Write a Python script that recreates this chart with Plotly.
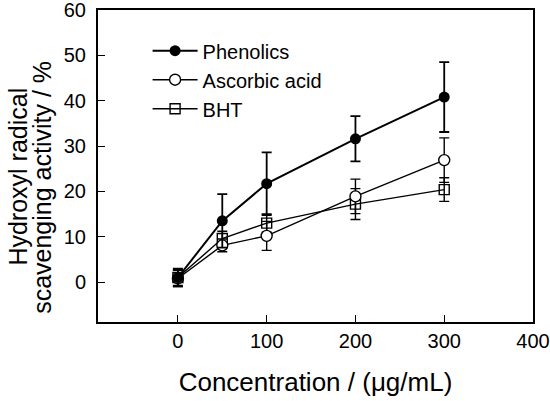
import plotly.graph_objects as go

conc = [0, 50, 100, 200, 300]
phenolics = [1.0, 13.5, 21.7, 31.6, 40.8]
phenolics_err = [1.8, 5.9, 6.9, 5.0, 7.7]
ascorbic = [0.8, 8.1, 10.2, 18.9, 26.9]
ascorbic_err = [1.8, 1.4, 3.2, 3.8, 4.9]
bht = [1.0, 9.6, 13.0, 17.2, 20.4]
bht_err = [2.0, 1.6, 2.0, 3.4, 2.6]

x_ticks = [0, 100, 200, 300, 400]
y_ticks = [0, 10, 20, 30, 40, 50, 60]
x_title = "Concentration / (μg/mL)"
y_title_lines = ["Hydroxyl radical", "scavenging activity / %"]

fig = go.Figure()
fig.add_trace(go.Scatter(
    x=conc, y=bht, name="BHT", mode="lines+markers",
    line=dict(color="black", width=1.4),
    marker=dict(symbol="square-open", size=10, color="black", line=dict(width=1.4)),
    error_y=dict(type="data", array=bht_err, color="black", thickness=1.4, width=5),
))
fig.add_trace(go.Scatter(
    x=conc, y=ascorbic, name="Ascorbic acid", mode="lines+markers",
    line=dict(color="black", width=1.4),
    marker=dict(symbol="circle", size=11, color="white", line=dict(width=1.4, color="black")),
    error_y=dict(type="data", array=ascorbic_err, color="black", thickness=1.4, width=5),
))
fig.add_trace(go.Scatter(
    x=conc, y=phenolics, name="Phenolics", mode="lines+markers",
    line=dict(color="black", width=2),
    marker=dict(symbol="circle", size=11, color="black"),
    error_y=dict(type="data", array=phenolics_err, color="black", thickness=1.8, width=5),
))

fam = "Liberation Sans, Arial, sans-serif"
tick_font = dict(family=fam, size=20, color="black")
title_font = dict(family=fam, size=25, color="black")

# y-axis title as two tightly spaced rotated lines
for i, (txt, xpx) in enumerate(zip(y_title_lines, [18, 42])):
    fig.add_annotation(text=txt, xref="paper", yref="paper",
                       x=(xpx - 98) / 435, y=0.466 if i == 0 else 0.43,
                       xanchor="center", yanchor="middle", textangle=-90,
                       showarrow=False, font=title_font)

fig.update_layout(
    width=550, height=401,
    margin=dict(l=98, r=17, t=10, b=79),
    paper_bgcolor="white", plot_bgcolor="white",
    font=tick_font,
    showlegend=True,
    legend=dict(x=0.114, y=0.932, xanchor="left", yanchor="top",
                traceorder="reversed", bgcolor="rgba(0,0,0,0)",
                font=dict(family=fam, size=20, color="black"),
                itemwidth=45, tracegroupgap=0),
    xaxis=dict(range=[-90, 400], tickvals=x_ticks, ticks="inside", ticklen=7, tickwidth=1.3,
               tickcolor="black", showline=True, linecolor="black", linewidth=2, mirror=True,
               showgrid=False, zeroline=False, tickfont=tick_font, automargin=False,
               ticklabeloverflow="allow",
               title=dict(text=x_title, font=dict(family=fam, size=26, color="black"), standoff=22)),
    yaxis=dict(range=[-8.8, 60], tickvals=y_ticks, ticks="inside", ticklen=7, tickwidth=1.3,
               tickcolor="black", showline=True, linecolor="black", linewidth=2, mirror=True,
               showgrid=False, zeroline=False, tickfont=tick_font, automargin=False,
               ticklabeloverflow="allow", ticklabelstandoff=6),
)
fig.write_html("out.html", config={"displayModeBar": False},
               post_script="document.body.style.margin='0';")
